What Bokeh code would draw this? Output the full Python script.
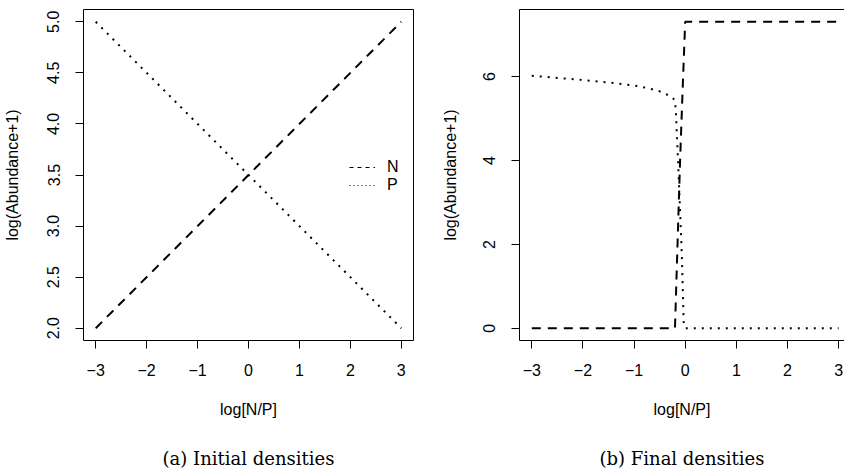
from bokeh.plotting import figure
from bokeh.layouts import row
from bokeh.models import (ColumnDataSource, Range1d, FixedTicker, Legend, LegendItem,
                          LinearAxis)
from bokeh.embed import file_html
from bokeh.resources import INLINE

# ---- data: (a) initial densities ----
init_x = [-3.0, 3.0]
init_N = [2.0, 5.0]
init_P = [5.0, 2.0]

# ---- data: (b) final densities ----
final_N_x = [-3.0, -0.2, -0.15, -0.1, -0.05, 0.0, 3.0]
final_N_y = [0.0, 0.0, 2.0, 4.0, 5.7, 7.31, 7.31]
final_P_x = [-3.0, -2.5, -2.0, -1.5, -1.0, -0.75, -0.5, -0.3, -0.2,
             -0.18, -0.14, -0.1, -0.065, -0.03, 0.0, 3.0]
final_P_y = [6.02, 5.97, 5.92, 5.86, 5.79, 5.73, 5.65, 5.54, 5.44,
             5.1, 4.0, 2.8, 1.7, 0.15, 0.0, 0.0]

x_ticks = [-3, -2, -1, 0, 1, 2, 3]
init_y_ticks = [2.0, 2.5, 3.0, 3.5, 4.0, 4.5, 5.0]
final_y_ticks = [0, 2, 4, 6]
x_label = "log[N/P]"
y_label = "log(Abundance+1)"
captions = ["(a) Initial densities", "(b) Final densities"]
series_names = ["N", "P"]

SANS = "Liberation Sans"
SERIF = "DejaVu Serif"
FS = "16px"


def blank_axis(**kw):
    return LinearAxis(ticker=FixedTicker(ticks=[]), major_label_text_font_size="0px",
                      major_tick_line_color=None, minor_tick_line_color=None,
                      major_tick_out=0, major_tick_in=0, **kw)


def style_axes(p, yticks, ylab_standoff, ytick_standoff, caption):
    p.outline_line_color = None
    p.xgrid.visible = False
    p.ygrid.visible = False
    p.background_fill_color = "white"
    p.border_fill_color = "white"
    for ax in p.xaxis + p.yaxis:
        ax.axis_line_color = "black"
        ax.axis_line_width = 1
        ax.major_tick_line_color = "black"
        ax.major_tick_in = 0
        ax.major_tick_out = 8
        ax.minor_tick_line_color = None
        ax.major_label_text_font = SANS
        ax.major_label_text_font_size = FS
        ax.major_label_text_color = "black"
        ax.axis_label_text_font = SANS
        ax.axis_label_text_font_size = FS
        ax.axis_label_text_font_style = "normal"
        ax.axis_label_text_color = "black"
    p.xaxis.ticker = FixedTicker(ticks=x_ticks)
    p.xaxis.major_label_overrides = {t: ("\u2212%d" % -t if t < 0 else "%d" % t) for t in x_ticks}
    p.xaxis.axis_label = x_label
    p.xaxis.major_label_standoff = 15
    p.xaxis.axis_label_standoff = 22
    p.yaxis.ticker = FixedTicker(ticks=yticks)
    p.yaxis.axis_label = y_label
    p.yaxis.major_label_orientation = "vertical"
    p.yaxis.major_label_standoff = ytick_standoff
    p.yaxis.axis_label_standoff = ylab_standoff
    # top frame line
    p.add_layout(blank_axis(axis_line_color="black"), "above")
    # caption under the panel
    cap = blank_axis(axis_line_color=None, axis_label=caption,
                     axis_label_text_font=SERIF, axis_label_text_font_size="18px",
                     axis_label_text_font_style="normal", axis_label_text_color="black",
                     axis_label_standoff=27)
    p.add_layout(cap, "below")


# ---------------- left panel ----------------
p1 = figure(width=420, height=474, output_backend="svg", toolbar_location=None,
            x_range=Range1d(-3.24, 3.24), y_range=Range1d(1.88, 5.12),
            min_border_left=82, min_border_right=7, min_border_top=9, min_border_bottom=134)
style_axes(p1, init_y_ticks, 24, 16, captions[0])
p1.yaxis.major_label_overrides = {t: "%.1f" % t for t in init_y_ticks}
p1.add_layout(blank_axis(axis_line_color="black"), "right")

src_a = ColumnDataSource(dict(x=init_x, n=init_N, p=init_P))
p1.line("x", "n", source=src_a, line_color="black", line_width=2, line_dash="9 7")
p1.line("x", "p", source=src_a, line_color="black", line_width=2, line_dash="2 6")

# legend key samples (thin lines, as in the reference key); single NaN point draws nothing
key_src = ColumnDataSource(dict(x=[float("nan")], y=[float("nan")]))
lg_n = p1.line("x", "y", source=key_src, line_color="black", line_width=1, line_dash="4 4")
lg_p = p1.line("x", "y", source=key_src, line_color="black", line_width=1, line_dash="1 3")
legend = Legend(items=[LegendItem(label=series_names[0], renderers=[lg_n]),
                       LegendItem(label=series_names[1], renderers=[lg_p])],
                location=(266, 146), border_line_color=None, background_fill_alpha=0,
                glyph_width=26, glyph_height=18, label_height=18, label_standoff=12,
                spacing=0, padding=0, margin=0,
                label_text_font=SANS, label_text_font_size=FS, label_text_color="black")
p1.add_layout(legend, "center")

# ---------------- right panel ----------------
p2 = figure(width=424, height=474, output_backend="svg", toolbar_location=None,
            x_range=Range1d(-3.24, 3.115), y_range=Range1d(-0.29, 7.60),
            min_border_left=99, min_border_right=0, min_border_top=9, min_border_bottom=134)
style_axes(p2, final_y_ticks, 22, 16, captions[1])

src_n = ColumnDataSource(dict(x=final_N_x, y=final_N_y))
src_p = ColumnDataSource(dict(x=final_P_x, y=final_P_y))
p2.line("x", "y", source=src_n, line_color="black", line_width=2, line_dash="9 7")
p2.line("x", "y", source=src_p, line_color="black", line_width=2, line_dash="2 6")

layout = row(p1, p2)
open("out.html", "w").write(file_html(layout, INLINE))
